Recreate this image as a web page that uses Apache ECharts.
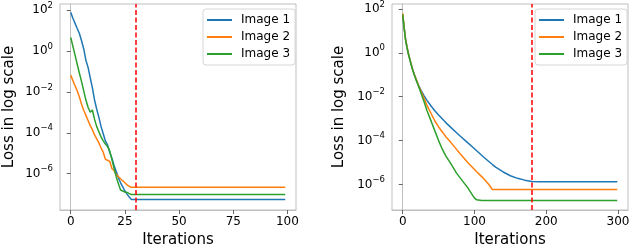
<!DOCTYPE html>
<html>
<head>
<meta charset="utf-8">
<script src="https://cdn.jsdelivr.net/npm/echarts@6/dist/echarts.min.js"></script>
<style>
html,body{margin:0;padding:0;background:#fff;}
#chart{width:632px;height:246px;}
</style>
</head>
<body>
<div id="chart"></div>
<script>
// ---------- Data ----------
const seriesNames = ['Image 1', 'Image 2', 'Image 3'];
const xTicksLeft = [0, 25, 50, 75, 100];
const xTicksRight = [0, 100, 200, 300];
const yTicks = [1e-6, 1e-4, 1e-2, 1, 100];
const stopLeft = 30;
const stopRight = 180;

// Left panel: iterations 0..28, then flat until 99
const leftIterations = [0,1,2,3,4,5,6,7,8,9,10,11,12,13,14,15,16,17,18,19,20,21,22,23,24,25,26,27,28,99];
const leftImage1 = [77.6,39.8,22.4,12.6,7.24,3.16,1.26,0.355,0.158,0.0501,0.0158,3.98e-3,1.41e-3,5.62e-4,2.0e-4,8.9e-5,3.98e-5,2.51e-5,1.12e-5,5.62e-6,2.51e-6,1.26e-6,6.3e-7,3.55e-7,2.24e-7,1.41e-7,1.0e-7,7.1e-8,5.4e-8,5.4e-8];
const leftImage2 = [0.0676,0.0355,0.02,0.0112,5.6e-3,2.5e-3,1.26e-3,7.1e-4,4.0e-4,2.24e-4,1.41e-4,7.9e-5,5.0e-5,3.16e-5,1.78e-5,1.12e-5,5.0e-6,4.5e-6,4.0e-6,1.78e-6,1.41e-6,8.9e-7,7.1e-7,5.6e-7,4.5e-7,3.55e-7,2.82e-7,2.4e-7,2.14e-7,2.14e-7];
const leftImage3 = [4.68,1.70,0.631,0.224,0.0813,0.0316,0.0112,3.98e-3,1.78e-3,1.0e-3,1.3e-3,4.5e-4,2.0e-4,1.12e-4,6.3e-5,3.98e-5,2.82e-5,2.14e-5,1.26e-5,5.0e-6,1.78e-6,7.1e-7,3.16e-7,1.58e-7,1.41e-7,1.26e-7,1.20e-7,1.05e-7,9.5e-8,9.5e-8];

// Right panel
const rightIterations = [0,2,4,6,8,10,12,14,16,18,20,22,25,30,34,40,45,50,55,60,67,75,80,90,100,103,110,113,120,125,130,140,150,160,170,180,190,299];
const rightImage1 = [50.1,13.2,3.98,1.78,0.891,0.501,0.282,0.166,0.105,0.0708,0.0479,0.0331,0.0209,0.0107,6.61e-3,3.55e-3,2.24e-3,1.45e-3,9.8e-4,6.6e-4,3.98e-4,2.29e-4,1.62e-4,8.3e-5,4.27e-5,3.47e-5,2.14e-5,1.74e-5,1.12e-5,8.1e-6,6.0e-6,3.72e-6,2.51e-6,1.91e-6,1.58e-6,1.38e-6,1.32e-6,1.32e-6];
const rightImage2 = [63.1,14.1,3.98,1.78,0.891,0.501,0.282,0.166,0.105,0.0708,0.0479,0.0316,0.0191,7.9e-3,3.89e-3,1.58e-3,7.6e-4,4.17e-4,2.51e-4,1.51e-4,8.3e-5,3.98e-5,2.51e-5,1.05e-5,4.8e-6,3.8e-6,2.29e-6,1.82e-6,1.0e-6,5.9e-7,5.9e-7,5.9e-7,5.9e-7,5.9e-7,5.9e-7,5.9e-7,5.9e-7,5.9e-7];
const rightImage3 = [56.2,13.2,3.8,1.66,0.832,0.468,0.263,0.158,0.1,0.0661,0.0437,0.0295,0.0158,5.6e-3,2.24e-3,7.1e-4,2.63e-4,1.0e-4,4.17e-5,2.0e-5,8.9e-6,3.31e-6,2.0e-6,7.6e-7,2.4e-7,2.0e-7,1.86e-7,1.86e-7,1.86e-7,1.86e-7,1.86e-7,1.86e-7,1.86e-7,1.86e-7,1.86e-7,1.86e-7,1.86e-7,1.86e-7];

// ---------- Styling ----------
const FONT = 'DejaVu Sans';
const colors = ['#1f77b4', '#ff7f0e', '#2ca02c'];
const spineColor = '#bfbfbf';
const tickColor = '#666';

function pairs(xs, ys) { return xs.map((x, i) => [x, ys[i]]); }

function supLabel(v) {
  const e = Math.round(Math.log10(v));
  const s = e < 0 ? '\u2212' + (-e) : String(e);
  return '{b|10}{s|' + s + '}';
}

function xAxisCfg(gridIndex, min, max, ticks) {
  return {
    type: 'value', gridIndex, min, max,
    name: 'Iterations', nameLocation: 'middle', nameGap: 22,
    nameTextStyle: { fontFamily: FONT, fontSize: 15, color: '#000' },
    axisLine: { show: true, lineStyle: { color: spineColor, width: 1 } },
    axisTick: { show: true, inside: false, length: 4, customValues: ticks, lineStyle: { color: tickColor } },
    axisLabel: { show: true, margin: 6, customValues: ticks, fontFamily: FONT, fontSize: 12, color: '#000' },
    splitLine: { show: false }
  };
}

function yAxisCfg(gridIndex, min, max, nameGap) {
  return {
    type: 'log', logBase: 10, gridIndex, min, max,
    name: 'Loss in log scale', nameLocation: 'middle', nameGap,
    nameTextStyle: { fontFamily: FONT, fontSize: 15, color: '#000' },
    axisLine: { show: true, lineStyle: { color: spineColor, width: 1 } },
    axisTick: { show: true, inside: false, length: 4, customValues: yTicks, lineStyle: { color: tickColor } },
    axisLabel: {
      show: true, margin: 7, customValues: yTicks,
      formatter: supLabel,
      rich: {
        b: { fontFamily: FONT, fontSize: 12, lineHeight: 18, color: '#000' },
        s: { fontFamily: FONT, fontSize: 8.5, lineHeight: 9, verticalAlign: 'top', color: '#000' }
      }
    },
    splitLine: { show: false },
    minorTick: { show: false }
  };
}

function legendCfg(left) {
  return {
    orient: 'vertical', left, top: 9,
    data: seriesNames.map(n => ({ name: n, icon: 'rect' })),
    itemWidth: 25, itemHeight: 2, itemGap: 3,
    padding: [4, 5, 4, 4],
    borderColor: '#d6d6d6', borderWidth: 1, borderRadius: 3,
    backgroundColor: 'rgba(255,255,255,0.85)',
    textStyle: { fontFamily: FONT, fontSize: 12, lineHeight: 14, color: '#000', padding: [0, 0, 0, 4] },
    selectedMode: false
  };
}

function lineSeries(name, idx, axisIndex, data, stopX) {
  const s = {
    name, type: 'line', xAxisIndex: axisIndex, yAxisIndex: axisIndex,
    data, symbol: 'none', showSymbol: false, smooth: false,
    color: colors[idx],
    lineStyle: { color: colors[idx], width: 1.5 },
    z: 2 + idx, animation: false
  };
  if (stopX !== undefined) {
    s.markLine = {
      silent: true, symbol: 'none', animation: false,
      label: { show: false },
      lineStyle: { color: '#ff0000', type: [5, 2.5], width: 1.5 },
      data: [{ xAxis: stopX }]
    };
  }
  return s;
}

const chart = echarts.init(document.getElementById('chart'), null, { renderer: 'canvas', width: 632, height: 246 });

const option = {
  backgroundColor: '#fff',
  animation: false,
  textStyle: { fontFamily: FONT },
  grid: [
    { left: 60, top: 4, width: 236, height: 206, show: true, borderColor: spineColor, borderWidth: 1, backgroundColor: 'transparent', containLabel: false, outerBoundsMode: 'none' },
    { left: 392, top: 4, width: 236, height: 206, show: true, borderColor: spineColor, borderWidth: 1, backgroundColor: 'transparent', containLabel: false, outerBoundsMode: 'none' }
  ],
  xAxis: [
    xAxisCfg(0, -4.95, 103.95, xTicksLeft),
    xAxisCfg(1, -14.95, 313.95, xTicksRight)
  ],
  yAxis: [
    yAxisCfg(0, 1.66e-8, 199.5, 43),
    yAxisCfg(1, 6.9e-8, 166, 45)
  ],
  legend: [legendCfg(203), legendCfg(535)],
  series: [
    lineSeries(seriesNames[0], 0, 0, pairs(leftIterations, leftImage1), stopLeft),
    lineSeries(seriesNames[1], 1, 0, pairs(leftIterations, leftImage2)),
    lineSeries(seriesNames[2], 2, 0, pairs(leftIterations, leftImage3)),
    lineSeries(seriesNames[0], 0, 1, pairs(rightIterations, rightImage1), stopRight),
    lineSeries(seriesNames[1], 1, 1, pairs(rightIterations, rightImage2)),
    lineSeries(seriesNames[2], 2, 1, pairs(rightIterations, rightImage3))
  ]
};
chart.setOption(option);
</script>
</body>
</html>
